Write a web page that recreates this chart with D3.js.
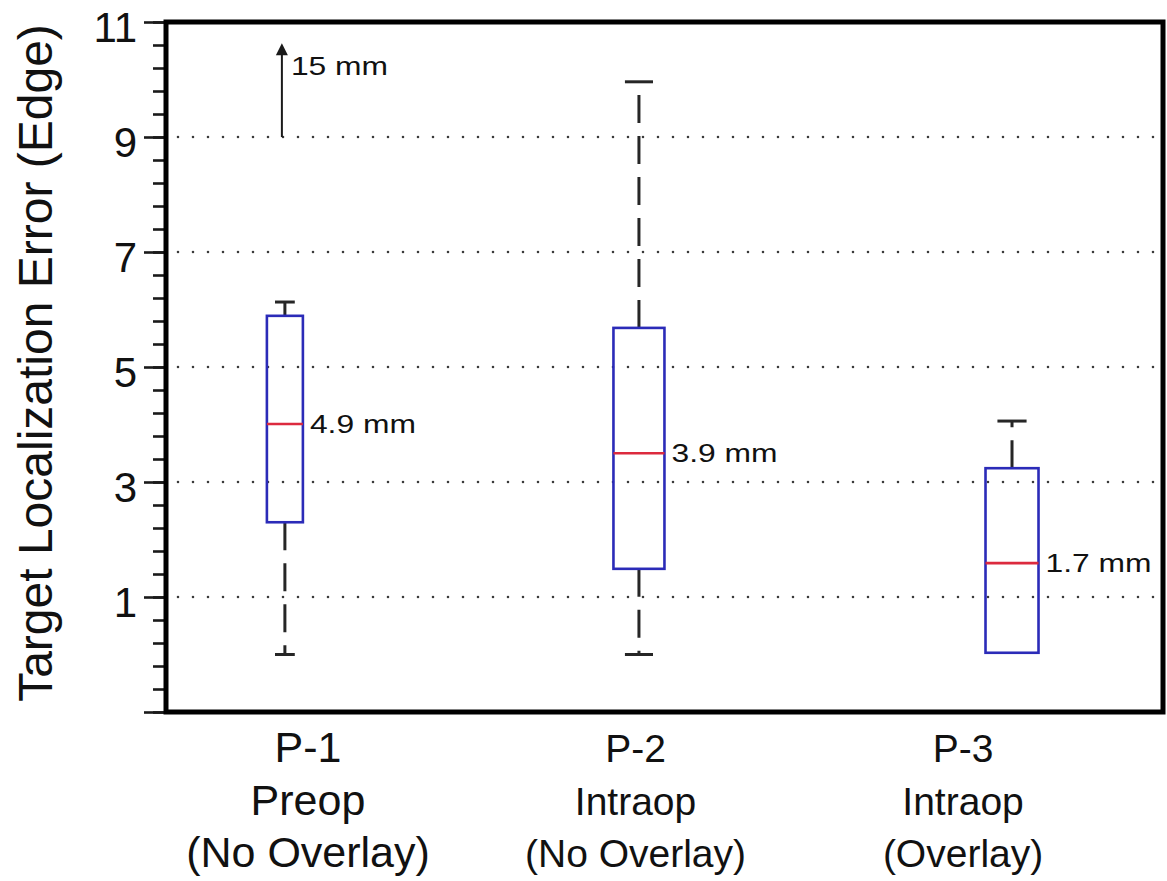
<!DOCTYPE html>
<html>
<head>
<meta charset="utf-8">
<script src="https://cdn.jsdelivr.net/npm/d3@7"></script>
<style>
  html, body { margin: 0; padding: 0; background: #fff; }
  svg { display: block; font-family: "Liberation Sans", Arial, sans-serif; }
</style>
</head>
<body>
<div id="chart"></div>
<script>
// data (values in mm)
const groups = ["P-1", "P-2", "P-3"];
const groupSub = ["Preop", "Intraop", "Intraop"];
const groupNote = ["(No Overlay)", "(No Overlay)", "(Overlay)"];
const boxPos = [0.931, 2.012, 3.151];
const whiskerLow = [0.0, 0.0, 0.03];
const q1 = [2.3, 1.49, 0.03];
const median = [4.01, 3.5, 1.59];
const q3 = [5.89, 5.68, 3.24];
const whiskerHigh = [6.13, 9.96, 4.06];
const medianLabels = ["4.9 mm", "3.9 mm", "1.7 mm"];
const gridValues = [1, 3, 5, 7, 9];
const majorTicks = [-1, 1, 3, 5, 7, 9, 11];
const minorTicks = d3.range(0, 31).map((i) => +(-1 + i * 0.4).toFixed(1));
const outlierArrow = { group: 0, from: 9, to: 10.63, label: "15 mm" };
const yTitle = "Target Localization Error (Edge)";

const dimensions = {
  width: 1167,
  height: 881,
  margin: { top: 22, right: 4, bottom: 169, left: 166 },
};
dimensions.boundedWidth =
  dimensions.width - dimensions.margin.left - dimensions.margin.right;
dimensions.boundedHeight =
  dimensions.height - dimensions.margin.top - dimensions.margin.bottom;

// per-box drawing sizes (px) as they appear in the figure
const boxWidths = [36, 51, 53];
const labelSizes = [43, 39, 39];

const svg = d3
  .select("#chart")
  .append("svg")
  .attr("width", dimensions.width)
  .attr("height", dimensions.height);

const bounds = svg
  .append("g")
  .attr("transform", `translate(${dimensions.margin.left},${dimensions.margin.top})`);

const x = d3
  .scaleLinear()
  .domain([0.568, 3.612])
  .range([0, dimensions.boundedWidth]);

const y = d3
  .scaleLinear()
  .domain([-1, 11])
  .range([dimensions.boundedHeight, 0]);

// dotted grid
bounds
  .selectAll(".grid")
  .data(gridValues)
  .join("line")
  .attr("class", "grid")
  .attr("x1", 12)
  .attr("x2", dimensions.boundedWidth)
  .attr("y1", (d) => y(d))
  .attr("y2", (d) => y(d))
  .attr("stroke", "#3a3a3a")
  .attr("stroke-width", 2.6)
  .attr("stroke-linecap", "round")
  .attr("stroke-dasharray", "0,15");

// y axis: minor and major ticks
const minorAxis = bounds
  .append("g")
  .call(d3.axisLeft(y).tickValues(minorTicks).tickSize(13).tickFormat(""));
const majorAxis = bounds
  .append("g")
  .call(
    d3
      .axisLeft(y)
      .tickValues(majorTicks)
      .tickSize(22)
      .tickPadding(7)
      .tickFormat((d) => (d < 0 ? "" : d))
  );
[minorAxis, majorAxis].forEach((a) => {
  a.select(".domain").remove();
  a.selectAll(".tick line").attr("stroke", "#1a1a1a").attr("stroke-width", 2.6);
});
majorAxis
  .selectAll(".tick text")
  .attr("font-size", 42)
  .attr("font-family", "Liberation Sans, Arial, sans-serif")
  .attr("fill", "#111")
  .attr("dy", "0.47em");

// boxes
const boxes = bounds
  .selectAll(".box")
  .data(groups)
  .join("g")
  .attr("class", "box")
  .attr("transform", (d, i) => `translate(${x(boxPos[i])},0)`);

boxes.each(function (d, i) {
  const g = d3.select(this);
  const w = boxWidths[i];
  const cap = w * 0.55;
  const whiskers = [
    [q3[i], whiskerHigh[i]],
    [q1[i], whiskerLow[i]],
  ];
  whiskers.forEach(([from, to]) => {
    if (Math.abs(from - to) < 0.05) return;
    g.append("line")
      .attr("x1", 0)
      .attr("x2", 0)
      .attr("y1", y(from))
      .attr("y2", y(to))
      .attr("stroke", "#262626")
      .attr("stroke-width", 3)
      .attr("stroke-dasharray", "28,13");
    g.append("line")
      .attr("x1", -cap / 2)
      .attr("x2", cap / 2)
      .attr("y1", y(to))
      .attr("y2", y(to))
      .attr("stroke", "#262626")
      .attr("stroke-width", 3);
  });
  g.append("rect")
    .attr("x", -w / 2)
    .attr("y", y(q3[i]))
    .attr("width", w)
    .attr("height", y(q1[i]) - y(q3[i]))
    .attr("fill", "none")
    .attr("stroke", "#2b2bb8")
    .attr("stroke-width", 2.6);
  g.append("line")
    .attr("x1", -w / 2)
    .attr("x2", w / 2)
    .attr("y1", y(median[i]))
    .attr("y2", y(median[i]))
    .attr("stroke", "#dc2a3e")
    .attr("stroke-width", 2.6);
  g.append("text")
    .attr("transform", `translate(${w / 2 + 7},${y(median[i])}) scale(1.2,1)`)
    .attr("dy", "0.34em")
    .attr("font-size", 26.5)
    .attr("fill", "#111")
    .text(medianLabels[i]);
});

// arrow for the off-scale value
const ax = x(boxPos[outlierArrow.group]) - 3;
bounds
  .append("line")
  .attr("x1", ax)
  .attr("x2", ax)
  .attr("y1", y(outlierArrow.from))
  .attr("y2", y(outlierArrow.to) + 8)
  .attr("stroke", "#1a1a1a")
  .attr("stroke-width", 2);
bounds
  .append("path")
  .attr(
    "d",
    d3.line()([
      [ax, y(outlierArrow.to)],
      [ax - 6, y(outlierArrow.to) + 12],
      [ax + 6, y(outlierArrow.to) + 12],
    ]) + "Z"
  )
  .attr("fill", "#1a1a1a");
bounds
  .append("text")
  .attr("transform", `translate(${ax + 9},${y(outlierArrow.to) + 32}) scale(1.2,1)`)
  .attr("font-size", 26.5)
  .attr("fill", "#111")
  .text(outlierArrow.label);

// frame
bounds
  .append("rect")
  .attr("width", dimensions.boundedWidth)
  .attr("height", dimensions.boundedHeight)
  .attr("fill", "none")
  .attr("stroke", "#000")
  .attr("stroke-width", 5);

// x axis category labels
const xAxis = bounds
  .append("g")
  .attr("transform", `translate(0,${dimensions.boundedHeight})`)
  .call(
    d3
      .axisBottom(x)
      .tickValues([1, 2, 3])
      .tickSize(0)
      .tickFormat((d) => groups[d - 1])
  );
xAxis.select(".domain").remove();
xAxis
  .selectAll(".tick text")
  .attr("font-family", "Liberation Sans, Arial, sans-serif")
  .attr("font-size", (d) => labelSizes[d - 1])
  .attr("fill", "#111")
  .attr("y", 0)
  .attr("dy", null)
  .each(function (d) {
    const t = d3.select(this);
    t.text(null);
    [groups, groupSub, groupNote].forEach((lines, k) => {
      t.append("tspan")
        .attr("x", 0)
        .attr("y", 50 + k * 52.5)
        .text(lines[d - 1]);
    });
  });

// y title
svg
  .append("text")
  .attr("transform", `translate(52,${dimensions.margin.top + dimensions.boundedHeight / 2 - 4}) rotate(-90)`)
  .attr("text-anchor", "middle")
  .attr("font-size", 48)
  .attr("fill", "#111")
  .text(yTitle);
</script>
</body>
</html>
